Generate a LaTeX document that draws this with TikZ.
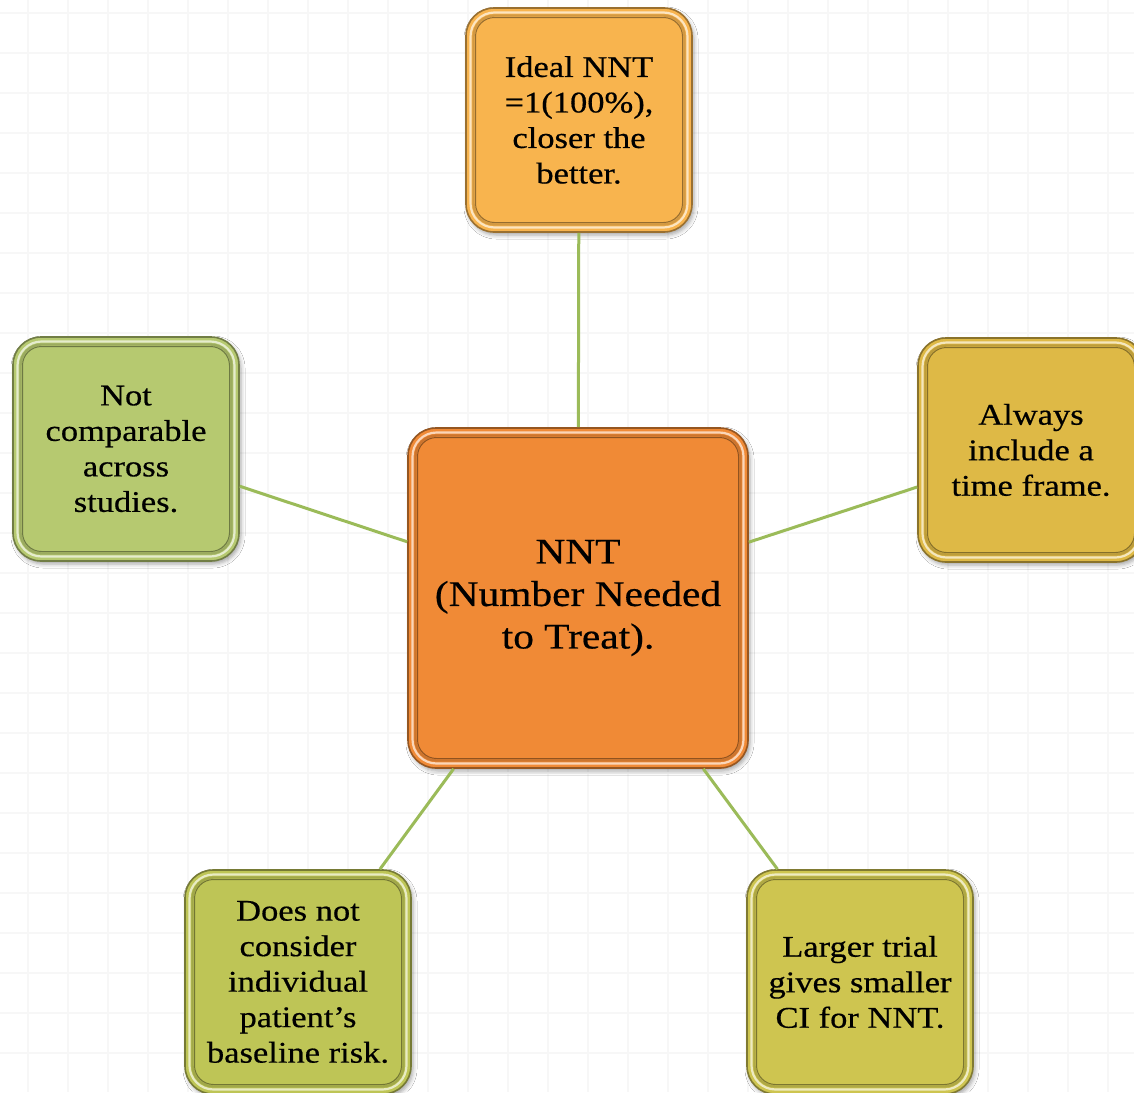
\documentclass[tikz,border=0pt]{standalone}
\usepackage{fontspec}
\setmainfont{Liberation Serif}[FakeStretch=1.15, FakeBold=0.5]
\usetikzlibrary{shadows.blur}

\definecolor{linkgreen}{RGB}{155,187,89}
\definecolor{hubfill}{RGB}{240,138,54}
\definecolor{topfill}{RGB}{248,180,78}
\definecolor{leftfill}{RGB}{182,201,112}
\definecolor{rightfill}{RGB}{222,185,70}
\definecolor{blfill}{RGB}{190,197,86}
\definecolor{brfill}{RGB}{206,197,80}

\tikzset{
  x=1pt, y=1pt,
  bevel/.style={rectangle, rounded corners=28pt, fill=#1, draw=#1!62!black,
    line width=1.6pt, align=center, inner sep=0pt, text=black,
    blur shadow={shadow xshift=2pt, shadow yshift=-3pt,
                 shadow blur radius=4pt, shadow opacity=35},
    path picture={
      \draw[#1!35!white, line width=2.2pt, rounded corners=24pt]
        ([shift={(4.5pt,-4.5pt)}]path picture bounding box.north west) rectangle
        ([shift={(-4.5pt,4.5pt)}]path picture bounding box.south east);
      \draw[#1!85!black, line width=2.4pt, rounded corners=21pt]
        ([shift={(7.5pt,-7.5pt)}]path picture bounding box.north west) rectangle
        ([shift={(-7.5pt,7.5pt)}]path picture bounding box.south east);
      \draw[#1!60!black, line width=1pt, rounded corners=19pt]
        ([shift={(9.5pt,-9.5pt)}]path picture bounding box.north west) rectangle
        ([shift={(-9.5pt,9.5pt)}]path picture bounding box.south east);
    }},
  leaf/.style={bevel=#1, minimum width=226pt, minimum height=224pt,
    font=\fontsize{30}{35.5}\selectfont},
  hub/.style={bevel=#1, minimum width=340pt, minimum height=340pt,
    font=\fontsize{36}{42.5}\selectfont},
  link/.style={draw=linkgreen, line width=3pt},
  gridline/.style={draw=black!3, line width=2pt}
}

\begin{document}
\begin{tikzpicture}
  % page and faint grid paper
  \useasboundingbox (0,0) rectangle (1134,-1092);
  \clip (0,0) rectangle (1134,-1092);
  \fill[white] (0,0) rectangle (1134,-1092);
  \foreach \gx in {28,68,...,1134} \draw[gridline] (\gx,0) -- (\gx,-1092);
  \foreach \gy in {13,53,...,1092} \draw[gridline] (0,-\gy) -- (1134,-\gy);

  % central concept and surrounding notes
  \node[hub=hubfill]    (hub)   at (578,-598) {NNT\\(Number Needed\\to Treat).};
  \node[leaf=topfill]   (top)   at (579,-120) {Ideal NNT\\=1(100\%),\\closer the\\better.};
  \node[leaf=leftfill]  (left)  at (126,-449) {Not\\comparable\\across\\studies.};
  \node[leaf=rightfill] (right) at (1031,-450) {Always\\include a\\time frame.};
  \node[leaf=blfill]    (bl)    at (298,-982) {Does not\\consider\\individual\\patient’s\\baseline risk.};
  \node[leaf=brfill]    (br)    at (860,-982) {Larger trial\\gives smaller\\CI for NNT.};

  % spokes
  \draw[link] (hub) -- (top);
  \draw[link] (hub) -- (left);
  \draw[link] (hub) -- (right);
  \draw[link] (hub) -- (bl);
  \draw[link] (hub) -- (br);
\end{tikzpicture}
\end{document}
